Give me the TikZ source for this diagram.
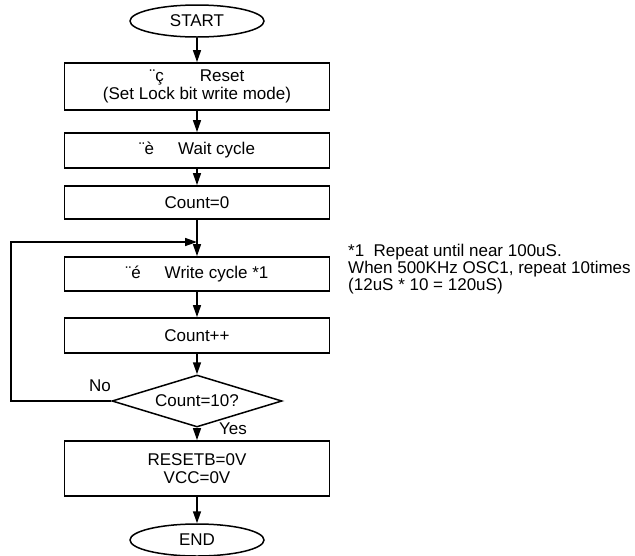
\documentclass[tikz,border=0pt]{standalone}
\usepackage{fontspec}
\setmainfont{Liberation Sans}
\usetikzlibrary{shapes.geometric,arrows.meta}
\tikzset{
    txt/.style={font=\fontsize{17}{18.5}\selectfont},
    box/.style={txt, draw, line width=1.8pt, minimum width=265pt, inner sep=0pt, align=center},
    term/.style={txt, draw, ellipse, line width=1.5pt, minimum width=134pt, minimum height=32pt, inner sep=0pt},
    test/.style={txt, draw, diamond, aspect=3.27, line width=1.5pt, minimum width=170pt, minimum height=52pt, inner sep=0pt},
    flow/.style={line width=1.5pt, -{Triangle[length=12pt,width=8pt]}}
}
\begin{document}
\begin{tikzpicture}[x=1pt, y=-1pt]
        \useasboundingbox (0,0) rectangle (635,555);
        \node [term] (start) at (197,21) {START};
        \node [box, minimum height=47pt] (reset) at (197,86.5) {¨ç\hspace{36pt}Reset\\(Set Lock bit write mode)};
        \node [box, minimum height=35pt] (wait) at (197,150.5) {¨è\hspace{24pt}Wait cycle};
        \node [box, minimum height=33pt] (cnt0) at (197,202.5) {Count=0};
        \coordinate (join) at (197,242);
        \node [box, minimum height=34pt] (write) at (197,274) {¨é\hspace{24pt}Write cycle *1};
        \node [box, minimum height=35pt] (inc) at (197,335.5) {Count++};
        \node [test] (test) at (197,401) {Count=10?};
        \node [box, minimum height=55pt] (off) at (197,468.5) {RESETB=0V\\VCC=0V};
        \node [term] (end) at (197,540) {END};
        \coordinate (back) at (11,401);
        \node [txt] (no) at (100,386) {No};
        \node [txt] (yes) at (233,429) {Yes};
        \node [txt, anchor=north west, align=left, inner sep=0pt, font=\fontsize{17}{17}\selectfont] (note) at (348,244) {*1\ \ Repeat until near 100uS.\\When 500KHz OSC1, repeat 10times\\(12uS * 10 = 120uS)};
        \draw [flow] (start) -- (reset);
        \draw [flow] (reset) -- (wait);
        \draw [flow] (wait) -- (cnt0);
        \draw [flow] (cnt0) -- (write);
        \draw [flow] (write) -- (inc);
        \draw [flow] (inc) -- (test);
        \draw [flow] (test) -- (off);
        \draw [flow] (off) -- (end);
        \draw [flow] (test.west) -- (back) |- (join);
    \end{tikzpicture}
\end{document}
